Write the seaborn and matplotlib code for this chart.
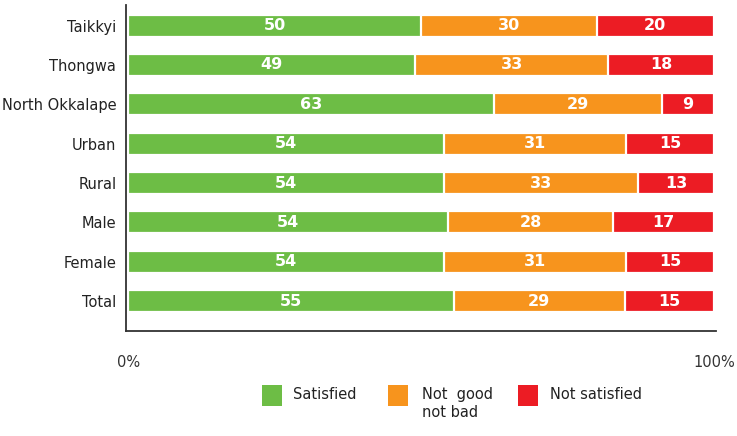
import pandas as pd
import seaborn as sns
import matplotlib.pyplot as plt
from matplotlib.patches import Rectangle

# Data (percent)
groups = ['Taikkyi', 'Thongwa', 'North Okkalape', 'Urban', 'Rural', 'Male', 'Female', 'Total']
satisfied = [50, 49, 63, 54, 54, 54, 54, 55]
neutral = [30, 33, 29, 31, 33, 28, 31, 29]
not_satisfied = [20, 18, 9, 15, 13, 17, 15, 15]

series_names = ['Satisfied', 'Not  good\nnot bad', 'Not satisfied']
colors = ['#6dbd45', '#f7941d', '#ec1c24']

sns.set_style('white')
plt.rcParams['font.family'] = ['Liberation Sans Narrow', 'DejaVu Sans']

# bars are scaled so each row fills 0-100%
df = pd.DataFrame({'group': groups, 'sat': satisfied, 'neu': neutral, 'no': not_satisfied})
df['total'] = df['sat'] + df['neu'] + df['no']
df['sat_pct'] = df['sat'] / df['total'] * 100
df['neu_pct'] = df['neu'] / df['total'] * 100
df['no_pct'] = df['no'] / df['total'] * 100
df['cum1'] = df['sat_pct']
df['cum2'] = df['sat_pct'] + df['neu_pct']
df['cum3'] = df['cum2'] + df['no_pct']

fig = plt.figure(figsize=(7.37, 4.36), dpi=100)
ax = fig.add_axes([0.171, 0.241, 0.8005, 0.748])

# stacked bars drawn back to front, white edges make the gaps
for col, c in zip(['cum3', 'cum2', 'cum1'], colors[::-1]):
    sns.barplot(data=df, x=col, y='group', orient='h', color=c, width=0.56,
                saturation=1, edgecolor='white', linewidth=1.6, ax=ax)

# value labels
for i, row in df.iterrows():
    starts = [0, row['cum1'], row['cum2']]
    widths = [row['sat_pct'], row['neu_pct'], row['no_pct']]
    vals = [row['sat'], row['neu'], row['no']]
    for s, w, v in zip(starts, widths, vals):
        ax.text(s + w / 2, i, str(v), ha='center', va='center', color='white',
                fontsize=11.5, fontweight='bold')

ax.set_xlim(-0.35, 100.35)
ax.set_ylim(7.76, -0.53)
ax.set_xticks([0, 100])
ax.set_xticklabels(['0%', '100%'], fontsize=10.5, color='#333333')
ax.tick_params(axis='x', length=0, pad=17)
ax.tick_params(axis='y', length=0, pad=7, labelsize=10.5, labelcolor='#222222')
ax.set_xlabel('')
ax.set_ylabel('')
sns.despine(ax=ax, top=True, right=True)
for sp in ['left', 'bottom']:
    ax.spines[sp].set_color('#333333')
    ax.spines[sp].set_linewidth(1.3)

# legend drawn by hand so the square lines up with the first text line
W, H = 737, 436
leg_x = [262, 388, 518]
txt_x = [293, 422, 550]
for lx, tx, name, c in zip(leg_x, txt_x, series_names, colors):
    fig.add_artist(Rectangle((lx / W, 1 - 406 / H), 20 / W, 21 / H,
                             transform=fig.transFigure, color=c, lw=0))
    fig.text(tx / W, 1 - 387 / H, name, ha='left', va='top', fontsize=10.5,
             color='#222222', linespacing=1.25)

fig.savefig('out.png', dpi=100)
